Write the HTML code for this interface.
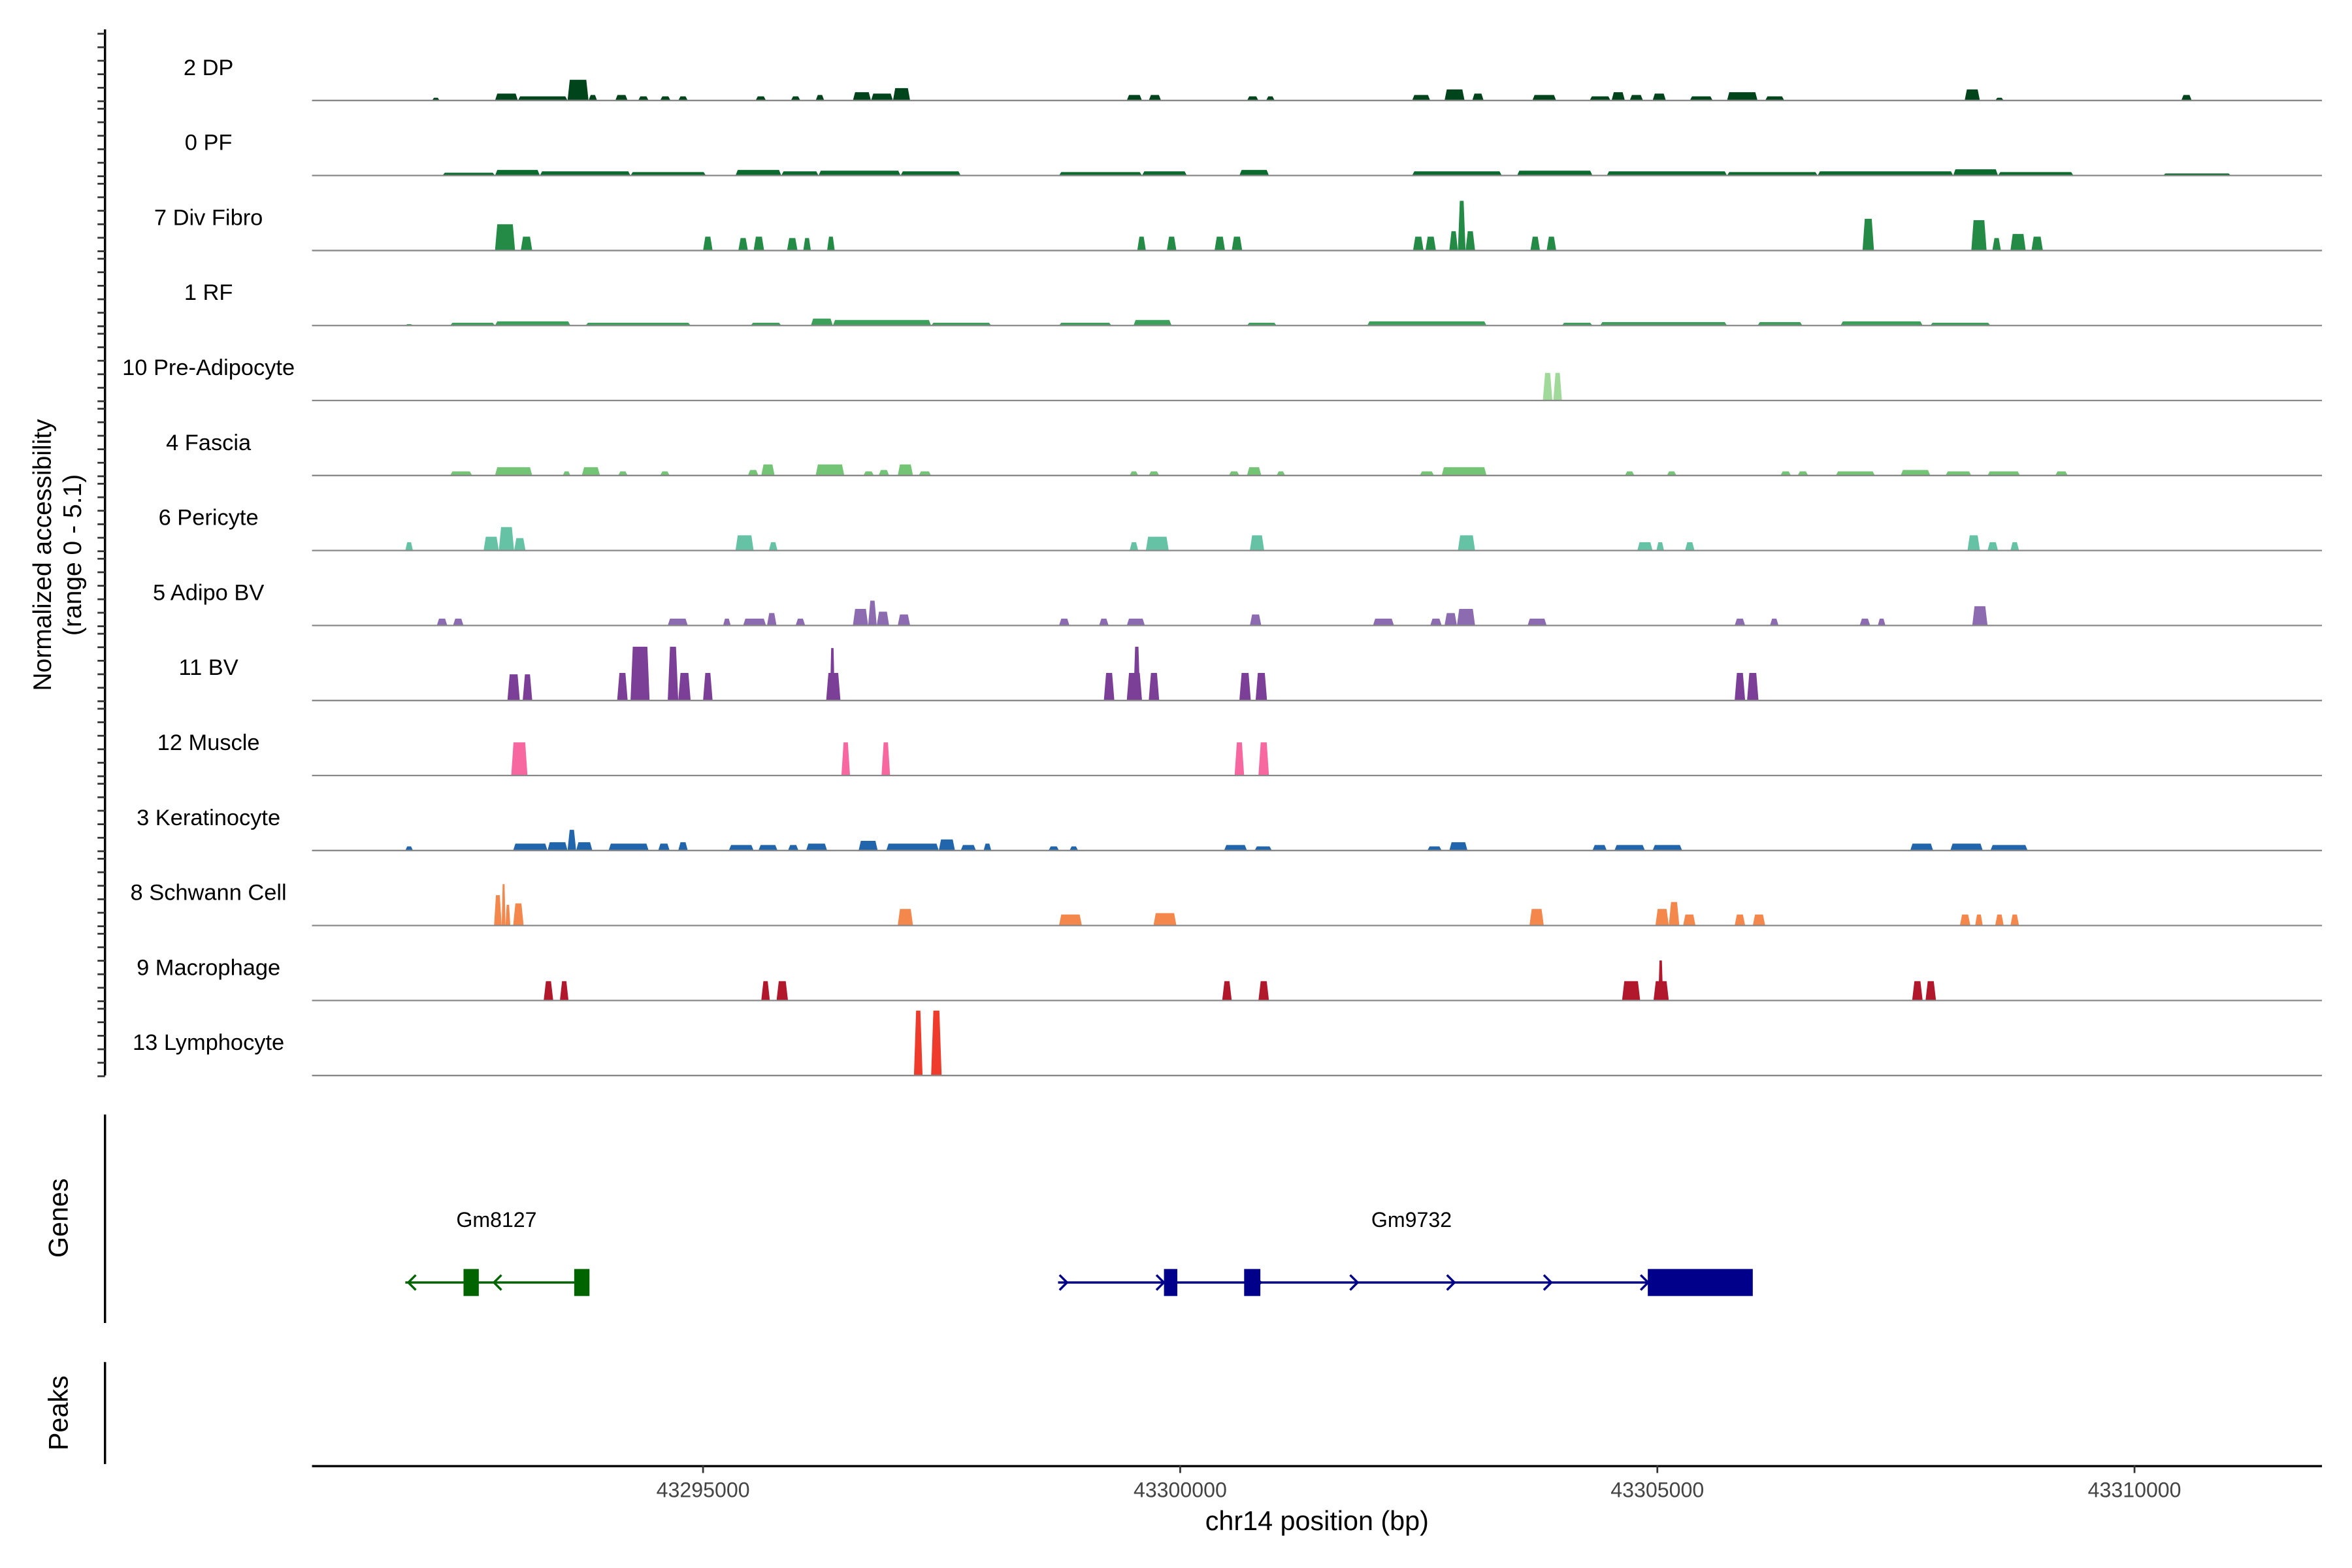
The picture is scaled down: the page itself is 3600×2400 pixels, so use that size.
<!DOCTYPE html>
<html><head><meta charset="utf-8">
<style>
html,body{margin:0;padding:0;background:#fff;}
svg{display:block;font-family:"Liberation Sans",sans-serif;}
</style></head>
<body>
<svg id="chart" width="3600" height="2400" viewBox="0 0 1568 1045.33" xmlns="http://www.w3.org/2000/svg">
<g id="tracks"></g>
<g id="leftaxis"></g>
<text transform="translate(34,370) rotate(-90)" text-anchor="middle" font-size="17">Normalized accessibility</text>
<text transform="translate(54,370) rotate(-90)" text-anchor="middle" font-size="17">(range 0 - 5.1)</text>
<line x1="70" y1="743" x2="70" y2="882" stroke="#000" stroke-width="1.5"/>
<text transform="translate(45,812) rotate(-90)" text-anchor="middle" font-size="18">Genes</text>
<line x1="70" y1="908" x2="70" y2="976" stroke="#000" stroke-width="1.5"/>
<text transform="translate(45,942) rotate(-90)" text-anchor="middle" font-size="18">Peaks</text>
<g id="genes"></g>
<g id="xaxis"></g>
<text x="878" y="1020" text-anchor="middle" font-size="18">chr14 position (bp)</text>
</svg>
<script>
const originKb = 43290.1;
const xTicksBp = [43295000, 43300000, 43305000, 43310000];
const trackNames = ["2 DP","0 PF","7 Div Fibro","1 RF","10 Pre-Adipocyte","4 Fascia","6 Pericyte","5 Adipo BV","11 BV","12 Muscle","3 Keratinocyte","8 Schwann Cell","9 Macrophage","13 Lymphocyte"];
const trackColors = ["#00441B","#0B6B2E","#238B45","#3DA05A","#A1D99B","#74C476","#66C2A5","#8C6BB1","#7B3F98","#F768A1","#2166AC","#F4874B","#B2182B","#EF3B2C"];
const peaksDP = [[2.06,2.14,.2],[2.72,2.96,.5],[2.96,3.48,.3],[3.48,3.70,1.5],[3.70,3.79,.4],[3.98,4.11,.4],[4.22,4.33,.3],[4.45,4.56,.3],[4.64,4.74,.3],[5.45,5.56,.3],[5.82,5.92,.3],[6.08,6.17,.4],[6.47,6.66,.6],[6.66,6.89,.5],[6.89,7.07,.9],[9.34,9.50,.4],[9.57,9.70,.4],[10.60,10.72,.3],[10.80,10.89,.3],[12.33,12.52,.4],[12.67,12.88,.8],[12.96,13.08,.5],[13.59,13.84,.4],[14.19,14.41,.3],[14.42,14.56,.6],[14.61,14.75,.4],[14.85,14.99,.5],[15.24,15.48,.3],[15.63,15.95,.6],[16.03,16.23,.3],[18.12,18.28,.8],[18.44,18.53,.2],[20.39,20.50,.4]];
const peaksPF = [[2.17,2.72,.2],[2.72,3.19,.4],[3.19,4.14,.3],[4.14,4.93,.25],[5.24,5.72,.4],[5.72,6.11,.3],[6.11,6.97,.35],[6.97,7.60,.3],[8.63,9.50,.25],[9.50,9.97,.3],[10.52,10.83,.4],[12.33,13.27,.3],[13.43,14.22,.35],[14.37,15.63,.3],[15.63,16.58,.25],[16.58,18.00,.3],[18.00,18.47,.45],[18.47,19.26,.25],[20.20,20.91,.15]];
const peaksDivFibro = [[2.72,2.93,1.9],[2.99,3.11,1.0],[4.90,5.00,1.0],[5.27,5.37,.9],[5.43,5.54,1.0],[5.78,5.89,.9],[5.95,6.03,.9],[6.20,6.28,1.0],[9.45,9.54,1.0],[9.76,9.86,1.0],[10.26,10.37,1.0],[10.44,10.55,1.0],[12.34,12.45,1.0],[12.47,12.58,1.0],[12.72,12.81,1.4],[12.81,12.89,3.6],[12.89,12.99,1.4],[13.57,13.67,1.0],[13.74,13.84,1.0],[17.05,17.17,2.3],[18.19,18.35,2.2],[18.41,18.50,.9],[18.60,18.76,1.2],[18.82,18.94,1.0]];
const peaksRF = [[1.78,1.86,.1],[2.25,2.72,.2],[2.72,3.51,.3],[3.67,4.77,.2],[5.40,5.72,.2],[6.03,6.26,.5],[6.26,7.29,.4],[7.29,7.92,.2],[8.63,9.18,.2],[9.41,9.81,.4],[10.60,10.91,.2],[11.86,13.11,.3],[13.90,14.22,.2],[14.30,15.63,.25],[15.95,16.42,.25],[16.82,17.68,.3],[17.76,18.39,.2]];
const peaksPreAdipo = [[13.70,13.80,2.0],[13.81,13.90,2.0]];
const peaksFascia = [[2.25,2.48,.3],[2.72,3.11,.6],[3.43,3.51,.3],[3.63,3.82,.6],[4.01,4.11,.3],[4.45,4.55,.3],[5.37,5.48,.4],[5.51,5.65,.8],[6.08,6.38,.8],[6.58,6.69,.3],[6.74,6.85,.4],[6.94,7.10,.8],[7.16,7.29,.3],[9.37,9.46,.3],[9.57,9.68,.3],[10.41,10.52,.3],[10.60,10.75,.6],[10.91,11.00,.3],[12.41,12.56,.3],[12.64,13.11,.6],[14.56,14.66,.3],[15.00,15.10,.3],[16.19,16.30,.3],[16.37,16.48,.3],[16.77,17.18,.3],[17.45,17.76,.4],[17.92,18.19,.3],[18.36,18.70,.3],[19.07,19.20,.3]];
const peaksPericyte = [[1.78,1.86,.6],[2.60,2.76,1.0],[2.76,2.92,1.7],[2.92,3.04,.9],[5.24,5.43,1.1],[5.59,5.68,.6],[9.37,9.46,.6],[9.54,9.78,1.0],[10.63,10.78,1.1],[12.81,12.99,1.1],[14.69,14.85,.6],[14.89,14.97,.6],[15.19,15.29,.6],[18.15,18.28,1.1],[18.36,18.47,.6],[18.60,18.69,.6]];
const peaksAdipoBV = [[2.11,2.22,.5],[2.28,2.39,.5],[4.53,4.74,.5],[5.11,5.19,.5],[5.32,5.56,.5],[5.57,5.67,.9],[5.87,5.97,.5],[6.47,6.63,1.2],[6.63,6.72,1.8],[6.72,6.85,1.0],[6.94,7.07,.8],[8.63,8.74,.5],[9.05,9.15,.5],[9.34,9.53,.5],[10.63,10.75,.8],[11.92,12.14,.5],[12.52,12.64,.5],[12.67,12.80,.9],[12.80,12.99,1.2],[13.54,13.74,.5],[15.71,15.82,.5],[16.08,16.17,.5],[17.02,17.13,.5],[17.21,17.29,.5],[18.20,18.36,1.4]];
const peaksBV = [[2.85,2.98,1.9],[3.01,3.11,1.9],[4.00,4.11,2.0],[4.14,4.34,3.9],[4.53,4.64,3.9],[4.64,4.77,2.0],[4.90,5.00,2.0],[6.19,6.34,2.0],[6.23,6.28,3.8],[9.10,9.21,2.0],[9.34,9.50,2.0],[9.41,9.48,3.9],[9.57,9.68,2.0],[10.52,10.64,2.0],[10.69,10.81,2.0],[15.71,15.82,2.0],[15.84,15.96,2.0]];
const peaksMuscle = [[2.89,3.06,2.4],[6.35,6.44,2.4],[6.77,6.86,2.4],[10.47,10.57,2.4],[10.72,10.83,2.4]];
const peaksKerat = [[1.78,1.86,.3],[2.91,3.27,.5],[3.27,3.48,.6],[3.48,3.57,1.5],[3.57,3.74,.6],[3.91,4.33,.5],[4.43,4.55,.5],[4.64,4.74,.6],[5.17,5.43,.4],[5.48,5.68,.4],[5.79,5.90,.4],[5.98,6.20,.5],[6.53,6.73,.7],[6.82,7.37,.5],[7.37,7.54,.8],[7.60,7.76,.4],[7.84,7.92,.5],[8.52,8.63,.3],[8.74,8.83,.3],[10.36,10.60,.4],[10.68,10.86,.3],[12.49,12.64,.3],[12.72,12.91,.6],[14.22,14.37,.4],[14.45,14.77,.4],[14.85,15.16,.4],[17.55,17.79,.5],[17.97,18.31,.5],[18.39,18.78,.4]];
const peaksSchwann = [[2.71,2.79,2.2],[2.79,2.83,3.0],[2.83,2.88,1.5],[2.91,3.02,1.6],[6.94,7.10,1.2],[8.63,8.87,.8],[9.62,9.86,.9],[13.56,13.71,1.2],[14.88,15.02,1.2],[15.02,15.13,1.7],[15.17,15.30,.8],[15.71,15.82,.8],[15.90,16.03,.8],[18.07,18.18,.8],[18.23,18.31,.8],[18.44,18.53,.8],[18.60,18.69,.8]];
const peaksMacro = [[3.23,3.33,1.4],[3.40,3.49,1.4],[5.51,5.60,1.4],[5.67,5.79,1.4],[10.34,10.44,1.4],[10.72,10.83,1.4],[14.53,14.72,1.4],[14.86,15.02,1.4],[14.91,14.96,2.9],[17.57,17.68,1.4],[17.71,17.82,1.4]];
const peaksLymph = [[7.11,7.20,4.7],[7.29,7.40,4.7]];
const allPeaks = [peaksDP,peaksPF,peaksDivFibro,peaksRF,peaksPreAdipo,peaksFascia,peaksPericyte,peaksAdipoBV,peaksBV,peaksMuscle,peaksKerat,peaksSchwann,peaksMacro,peaksLymph];
const genes = [{name:"Gm8127",start:43291.88,end:43293.80,strand:-1,color:"#006400",exons:[[43292.49,43292.65],[43293.65,43293.81]]},
 {name:"Gm9732",start:43298.72,end:43305.95,strand:1,color:"#00008B",exons:[[43299.83,43299.97],[43300.67,43300.84],[43304.90,43306.00]]}];

const NS="http://www.w3.org/2000/svg";
const X0=208,X1=1548;
const KB0=43295-(468.7-208)/63.62, KB1=43295+(1548-468.7)/63.62;
function xKb(kb){return X0+(kb-KB0)/(KB1-KB0)*(X1-X0);}
function xRel(r){return xKb(originKb+r);}
const UNIT=9.2;
function yVal(base,v){return base-v*UNIT;}
function mk(tag,attrs,parent){const e=document.createElementNS(NS,tag);for(const k in attrs)e.setAttribute(k,attrs[k]);parent.appendChild(e);return e;}

const tracksG=document.getElementById('tracks');
const la=document.getElementById('leftaxis');
mk('line',{x1:70,y1:19.6,x2:70,y2:717,stroke:'#000','stroke-width':1.5},la);
trackNames.forEach((nm,i)=>{
  const base=67+50*i;
  const g=mk('g',{},tracksG);
  
  
  const lab=mk('text',{x:139,y:base-17,'text-anchor':'middle','font-size':'15'},g);
  
  
  lab.textContent=nm;
  allPeaks[i].forEach(p=>{
    const a=xRel(p[0]),b=xRel(p[1]),t=yVal(base,p[2]);
    const tp=Math.min(1.5,(b-a)*0.25);
    const poly=mk('polygon',{points:`${a},${base} ${a+tp},${t} ${b-tp},${t} ${b},${base}`,fill:trackColors[i]},g);
    
    
  });
  const bl=mk('line',{x1:X0,x2:X1,y1:base,y2:base,stroke:'#888','stroke-width':1},g);
  
  
  for(let k=0;k<=5;k++){
    const y=base+0.5-k*9;
    mk('line',{x1:65,x2:70,y1:y,y2:y,stroke:'#333','stroke-width':1.2},la);
  }
});

const gg=document.getElementById('genes');
genes.forEach(gn=>{
  const g=mk('g',{},gg);
  
  
  const x1=xKb(gn.start),x2=xKb(gn.end),y=855;
  mk('line',{x1:x1,x2:x2,y1:y,y2:y,stroke:gn.color,'stroke-width':1.5},g);
  const n=Math.max(2,Math.round((x2-x1)/64)+1);
  for(let k=0;k<n;k++){
    const ax=x1+4+(x2-x1-8)*k/(n-1);
    const d=gn.strand>0?`M${ax-3},${y-5} L${ax+2},${y} L${ax-3},${y+5}`:`M${ax+3},${y-5} L${ax-2},${y} L${ax+3},${y+5}`;
    mk('path',{d:d,stroke:gn.color,fill:'none','stroke-width':1.5},g);
  }
  gn.exons.forEach(e=>{
    const r=mk('rect',{x:xKb(e[0]),y:846,width:xKb(e[1])-xKb(e[0]),height:18,fill:gn.color},g);
    
    
  });
  const t=mk('text',{x:(gn.strand<0?331:941),y:818,'text-anchor':'middle','font-size':'14'},g);
  
  
  t.textContent=gn.name;
});

const xa=document.getElementById('xaxis');
mk('line',{x1:X0,x2:X1,y1:977.4,y2:977.4,stroke:'#000','stroke-width':1.5},xa);
xTicksBp.forEach(bp=>{
  const x=xKb(bp/1000);
  mk('line',{x1:x,x2:x,y1:977,y2:982,stroke:'#333','stroke-width':1.2},xa);
  const t=mk('text',{x:x,y:998,'text-anchor':'middle','font-size':'14',fill:'#444'},xa);
  
  
  t.textContent=String(bp);
});
</script>
</body></html>
